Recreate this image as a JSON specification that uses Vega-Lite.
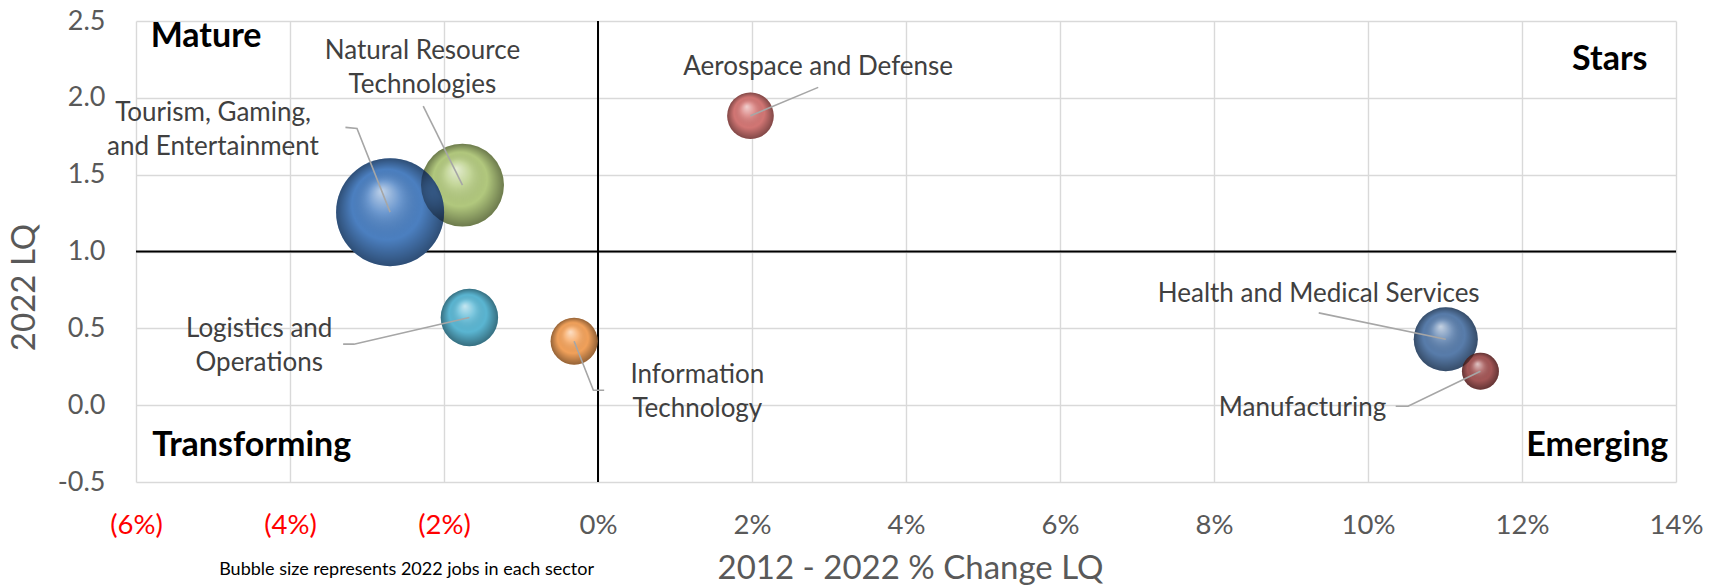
{
  "$schema": "https://vega.github.io/schema/vega-lite/v6.json",
  "width": 1540,
  "height": 461,
  "autosize": {"type": "none"},
  "padding": {"left": 136, "top": 21, "right": 43, "bottom": 104},
  "background": "white",
  "config": {"view": {"stroke": null}, "font": "Lato"},
  "datasets": {
    "bubbles": [
      {"sector": "Natural Resource Technologies", "x": -0.0176, "y": 1.432, "jobs": 17100},
      {"sector": "Tourism, Gaming, and Entertainment", "x": -0.0270, "y": 1.256, "jobs": 29000},
      {"sector": "Aerospace and Defense", "x": 0.0198, "y": 1.883, "jobs": 5400},
      {"sector": "Logistics and Operations", "x": -0.0167, "y": 0.571, "jobs": 8200},
      {"sector": "Information Technology", "x": -0.0031, "y": 0.416, "jobs": 5500},
      {"sector": "Health and Medical Services", "x": 0.1101, "y": 0.429, "jobs": 10200},
      {"sector": "Manufacturing", "x": 0.1146, "y": 0.221, "jobs": 3400}
    ],
    "leaders": [
      {"sector": "Tourism", "ord": 0, "x": -0.0328, "y": 1.808},
      {"sector": "Tourism", "ord": 1, "x": -0.0313, "y": 1.801},
      {"sector": "Tourism", "ord": 2, "x": -0.0270, "y": 1.256},
      {"sector": "Natural", "ord": 0, "x": -0.0227, "y": 1.9465},
      {"sector": "Natural", "ord": 1, "x": -0.0176, "y": 1.432},
      {"sector": "Aerospace", "ord": 0, "x": 0.0286, "y": 2.068},
      {"sector": "Aerospace", "ord": 1, "x": 0.0198, "y": 1.883},
      {"sector": "Logistics", "ord": 0, "x": -0.0331, "y": 0.397},
      {"sector": "Logistics", "ord": 1, "x": -0.0317, "y": 0.397},
      {"sector": "Logistics", "ord": 2, "x": -0.0167, "y": 0.571},
      {"sector": "IT", "ord": 0, "x": -0.0031, "y": 0.416},
      {"sector": "IT", "ord": 1, "x": -0.0006, "y": 0.097},
      {"sector": "IT", "ord": 2, "x": 0.0008, "y": 0.097},
      {"sector": "Health", "ord": 0, "x": 0.0936, "y": 0.6005},
      {"sector": "Health", "ord": 1, "x": 0.1101, "y": 0.429},
      {"sector": "Manufacturing", "ord": 0, "x": 0.1036, "y": -0.007},
      {"sector": "Manufacturing", "ord": 1, "x": 0.1052, "y": -0.007},
      {"sector": "Manufacturing", "ord": 2, "x": 0.1146, "y": 0.221}
    ],
    "labels": [
      {"label": "Aerospace and Defense", "x": 0.0286, "y": 2.202},
      {"label": "Natural Resource\nTechnologies", "x": -0.0228, "y": 2.308},
      {"label": "Tourism, Gaming,\nand Entertainment", "x": -0.0500, "y": 1.904},
      {"label": "Logistics and\nOperations", "x": -0.0440, "y": 0.498},
      {"label": "Information\nTechnology", "x": 0.0129, "y": 0.197},
      {"label": "Health and Medical Services", "x": 0.0936, "y": 0.722},
      {"label": "Manufacturing", "x": 0.0915, "y": -0.0155}
    ],
    "quadLeft": [
      {"label": "Mature", "x": -0.0581, "y": 2.394},
      {"label": "Transforming", "x": -0.0579, "y": -0.2655}
    ],
    "quadRight": [
      {"label": "Stars", "x": 0.1363, "y": 2.245},
      {"label": "Emerging", "x": 0.1390, "y": -0.2655}
    ],
    "note": [
      {"label": "Bubble size represents 2022 jobs in each sector", "x": -0.0492, "y": -1.075}
    ],
    "vline": [{"x": 0, "y": -0.5, "y2": 2.5}],
    "hline": [{"x": -0.06, "x2": 0.14, "y": 1}]
  },
  "encoding": {
    "x": {
      "field": "x", "type": "quantitative",
      "scale": {"domain": [-0.06, 0.14], "nice": false, "zero": false},
      "axis": {
        "values": [-0.06, -0.04, -0.02, 0, 0.02, 0.04, 0.06, 0.08, 0.1, 0.12, 0.14],
        "labelExpr": "datum.value < -0.0001 ? '(' + format(-datum.value, '.0%') + ')' : format(datum.value, '.0%')",
        "labelColor": {"condition": {"test": "datum.value < -0.0001", "value": "#ff0000"}, "value": "#595959"},
        "labelFont": "Lato", "labelFontSize": 27.5, "labelBaseline": "middle", "labelPadding": 43,
        "labelFlush": false, "labelOverlap": false,
        "ticks": false, "domain": false,
        "grid": true, "gridColor": "#d9d9d9", "gridWidth": 1.4,
        "title": "2012 - 2022 % Change LQ", "titleFont": "Lato", "titleFontSize": 33, "titleFontWeight": "normal",
        "titleColor": "#595959", "titleBaseline": "middle", "titleY": 86, "titleX": 774
      }
    },
    "y": {
      "field": "y", "type": "quantitative",
      "scale": {"domain": [-0.5, 2.5], "nice": false, "zero": false},
      "axis": {
        "values": [-0.5, 0, 0.5, 1, 1.5, 2, 2.5],
        "labelExpr": "datum.value < 0 ? '-' + format(-datum.value, '.1f') : format(datum.value, '.1f')",
        "labelColor": "#595959", "labelFont": "Lato", "labelFontSize": 27, "labelPadding": 31,
        "ticks": false, "domain": false,
        "grid": true, "gridColor": "#d9d9d9", "gridWidth": 1.4,
        "title": "2022 LQ", "titleFont": "Lato", "titleFontSize": 33, "titleFontWeight": "normal",
        "titleColor": "#595959", "titleBaseline": "middle", "titleAngle": 270, "titleX": -112, "titleY": 266
      }
    }
  },
  "layer": [
    {
      "data": {"name": "vline"},
      "mark": {"type": "rule", "color": "#000000", "strokeWidth": 2},
      "encoding": {"y2": {"field": "y2"}}
    },
    {
      "data": {"name": "hline"},
      "mark": {"type": "rule", "color": "#000000", "strokeWidth": 2},
      "encoding": {"x2": {"field": "x2"}}
    },
    {
      "data": {"name": "bubbles"},
      "mark": {"type": "circle", "opacity": 1},
      "encoding": {
        "size": {"field": "jobs", "type": "quantitative", "scale": {"domain": [0, 29000], "range": [0, 11664], "zero": true}, "legend": null},
        "color": {
          "field": "sector", "type": "nominal", "legend": null,
          "scale": {
            "domain": ["Natural Resource Technologies", "Tourism, Gaming, and Entertainment", "Aerospace and Defense", "Logistics and Operations", "Information Technology", "Health and Medical Services", "Manufacturing"],
            "range": ["#b5cc80", "#4d82c4", "#d67876", "#5cb9d6", "#f6a45c", "#5a7fae", "#a65858"]
          }
        }
      }
    },
    {
      "data": {"name": "bubbles"},
      "mark": {
        "type": "circle", "opacity": 1,
        "fill": {
          "gradient": "radial", "x1": 0.42, "y1": 0.3, "r1": 0, "x2": 0.5, "y2": 0.5, "r2": 0.5,
          "stops": [
            {"offset": 0, "color": "rgba(255,255,255,0.65)"},
            {"offset": 0.3, "color": "rgba(255,255,255,0.18)"},
            {"offset": 0.65, "color": "rgba(0,0,0,0.02)"},
            {"offset": 1, "color": "rgba(0,0,0,0.4)"}
          ]
        }
      },
      "encoding": {
        "size": {"field": "jobs", "type": "quantitative", "scale": {"domain": [0, 29000], "range": [0, 11664], "zero": true}, "legend": null}
      }
    },
    {
      "data": {"name": "leaders"},
      "mark": {"type": "line", "color": "#a6a6a6", "strokeWidth": 1.6},
      "encoding": {
        "detail": {"field": "sector", "type": "nominal"},
        "order": {"field": "ord", "type": "quantitative"}
      }
    },
    {
      "data": {"name": "labels"},
      "mark": {"type": "text", "font": "Lato", "fontSize": 26, "color": "#404040", "align": "center", "baseline": "middle", "lineBreak": "\n", "lineHeight": 34},
      "encoding": {"text": {"field": "label", "type": "nominal"}}
    },
    {
      "data": {"name": "quadLeft"},
      "mark": {"type": "text", "font": "Lato", "fontSize": 34, "fontWeight": "bold", "color": "#000000", "align": "left", "baseline": "middle"},
      "encoding": {"text": {"field": "label", "type": "nominal"}}
    },
    {
      "data": {"name": "quadRight"},
      "mark": {"type": "text", "font": "Lato", "fontSize": 34, "fontWeight": "bold", "color": "#000000", "align": "right", "baseline": "middle"},
      "encoding": {"text": {"field": "label", "type": "nominal"}}
    },
    {
      "data": {"name": "note"},
      "mark": {"type": "text", "font": "Lato", "fontSize": 18, "color": "#000000", "align": "left", "baseline": "middle"},
      "encoding": {"text": {"field": "label", "type": "nominal"}}
    }
  ]
}
